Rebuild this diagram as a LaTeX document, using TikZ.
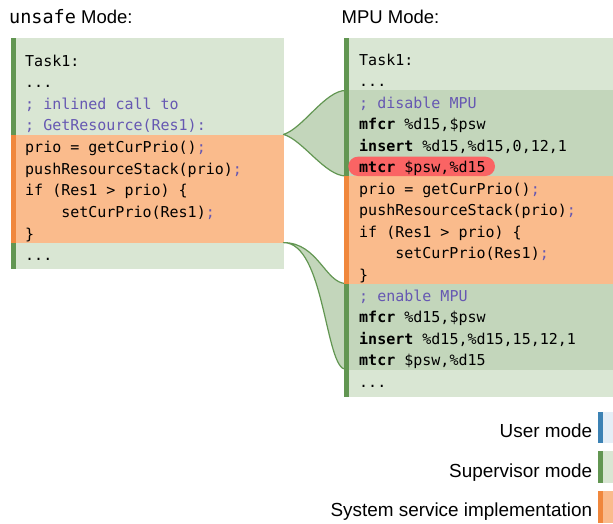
\documentclass[tikz,border=0pt]{standalone}
\usepackage{fontspec}
\setmainfont{Liberation Sans}
\setsansfont{Liberation Sans}
\setmonofont{DejaVu Sans Mono}

% palette
\definecolor{lgreen}{RGB}{217,230,211}
\definecolor{dgreen}{RGB}{195,214,187}
\definecolor{gbar}{RGB}{98,150,82}
\definecolor{ofill}{RGB}{250,187,140}
\definecolor{obar}{RGB}{240,135,60}
\definecolor{pillred}{RGB}{250,100,100}
\definecolor{bbar}{RGB}{60,130,180}
\definecolor{bfill}{RGB}{229,238,246}
\definecolor{cmt}{RGB}{102,88,178}

\newcommand\codefnt{\fontsize{15}{18}\selectfont\ttfamily}
\newcommand\headfnt{\fontsize{18.5}{22}\selectfont\sffamily}
\newcommand\legfnt{\fontsize{18.9}{22}\selectfont\sffamily}
\newcommand\cm[1]{\textcolor{cmt}{#1}}

\begin{document}
\begin{tikzpicture}[x=1pt,y=-1pt,
  codeline/.style={anchor=base west, inner sep=0pt, font=\codefnt, text=black},
  heading/.style={anchor=base west, inner sep=0pt, font=\headfnt},
  legendtext/.style={anchor=base east, inner sep=0pt, font=\legfnt},
  wedge/.style={fill=dgreen, draw=gbar, line width=1.2pt, line join=round}]

\useasboundingbox (0,0) rectangle (613,523);

% headings
\node[heading] (hl) at (9,23.3) {{\ttfamily unsafe} Mode:};
\node[heading] (hr) at (341.5,23.3) {MPU Mode:};

% ---- unsafe block: background bands ----
\fill[lgreen] (11,37.7) rectangle (283.7,269);
\fill[ofill]  (11,134.6) rectangle (283.7,242.8);

% ---- MPU block: background bands ----
\fill[lgreen] (344.3,37.7) rectangle (613,396.7);
\fill[dgreen] (344.3,90.4) rectangle (613,176);
\fill[ofill]  (344.3,176) rectangle (613,283.5);
\fill[dgreen] (344.3,283.5) rectangle (613,369.5);

% anchor points of the two expansion wedges
\coordinate (tipA) at (283.5,134.4);
\coordinate (a1) at (346,90.4);
\coordinate (a2) at (346,176);
\coordinate (tipB) at (283.5,242.6);
\coordinate (b1) at (346,283.5);
\coordinate (b2) at (346,369.5);

% wedge: inlined GetResource -> disable MPU sequence
\draw[wedge] (tipA) .. controls (303,128.5) and (325,90.4) .. (a1)
  -- (a2) .. controls (325,176) and (303,140) .. (tipA) -- cycle;
% wedge: end of block -> enable MPU sequence
\draw[wedge] (tipB) .. controls (318,242.6) and (325.5,283.5) .. (b1)
  -- (b2) .. controls (325,369.5) and (325,242.6) .. (tipB) -- cycle;

% mode bars on the left edge
\fill[gbar] (11,37.7) rectangle (15.7,269);
\fill[obar] (11,134.6) rectangle (15.7,242.8);
\fill[gbar] (344.3,37.7) rectangle (348.8,396.7);
\fill[obar] (344.3,176) rectangle (348.8,283.5);

% highlighted instruction
\fill[pillred, rounded corners=9.6pt] (348.3,156.7) rectangle (495,176);

% ---- unsafe block code ----
\node[codeline] (l0) at (25,{66+21.65*0}) {Task1:};
\node[codeline] (l1) at (25,{66+21.65*1}) {...};
\node[codeline] (l2) at (25,{66+21.65*2}) {\cm{; inlined call to}};
\node[codeline] (l3) at (25,{66+21.65*3}) {\cm{; GetResource(Res1):}};
\node[codeline] (l4) at (25,{66+21.65*4}) {prio = getCurPrio()\cm{;}};
\node[codeline] (l5) at (25,{66+21.65*5}) {pushResourceStack(prio)\cm{;}};
\node[codeline] (l6) at (25,{66+21.65*6}) {if (Res1 > prio) \{};
\node[codeline] (l7) at (61.1,{66+21.65*7}) {setCurPrio(Res1)\cm{;}};
\node[codeline] (l8) at (25,{66+21.65*8}) {\}};
\node[codeline] (l9) at (25,{66+21.65*9}) {...};

% ---- MPU block code ----
\node[codeline] (r0)  at (359,{65.5+21.45*0}) {Task1:};
\node[codeline] (r1)  at (359,{65.5+21.45*1}) {...};
\node[codeline] (r2)  at (359,{65.5+21.45*2}) {\cm{; disable MPU}};
\node[codeline] (r3)  at (359,{65.5+21.45*3}) {\textbf{mfcr} \%d15,\$psw};
\node[codeline] (r4)  at (359,{65.5+21.45*4}) {\textbf{insert} \%d15,\%d15,0,12,1};
\node[codeline] (r5)  at (359,{65.5+21.45*5}) {\textbf{mtcr} \$psw,\%d15};
\node[codeline] (r6)  at (359,{65.5+21.45*6}) {prio = getCurPrio()\cm{;}};
\node[codeline] (r7)  at (359,{65.5+21.45*7}) {pushResourceStack(prio)\cm{;}};
\node[codeline] (r8)  at (359,{65.5+21.45*8}) {if (Res1 > prio) \{};
\node[codeline] (r9)  at (395.1,{65.5+21.45*9}) {setCurPrio(Res1)\cm{;}};
\node[codeline] (r10) at (359,{65.5+21.45*10}) {\}};
\node[codeline] (r11) at (359,{65.5+21.45*11}) {\cm{; enable MPU}};
\node[codeline] (r12) at (359,{65.5+21.45*12}) {\textbf{mfcr} \%d15,\$psw};
\node[codeline] (r13) at (359,{65.5+21.45*13}) {\textbf{insert} \%d15,\%d15,15,12,1};
\node[codeline] (r14) at (359,{65.5+21.45*14}) {\textbf{mtcr} \$psw,\%d15};
\node[codeline] (r15) at (359,{65.5+21.45*15}) {...};

% ---- legend ----
\fill[bfill] (598.3,411.7) rectangle (613,443.3);
\fill[bbar]  (598.3,411.7) rectangle (602.7,443.3);
\fill[lgreen] (598.3,451) rectangle (613,483.3);
\fill[gbar]   (598.3,451) rectangle (602.7,483.3);
\fill[ofill] (598.3,490.7) rectangle (613,523);
\fill[obar]  (598.3,490.7) rectangle (602.7,523);
\node[legendtext] (lgu) at (592.3,437.7) {User mode};
\node[legendtext] (lgs) at (592.3,477.2) {Supervisor mode};
\node[legendtext] (lgi) at (592.3,516.7) {System service implementation};
\end{tikzpicture}
\end{document}
